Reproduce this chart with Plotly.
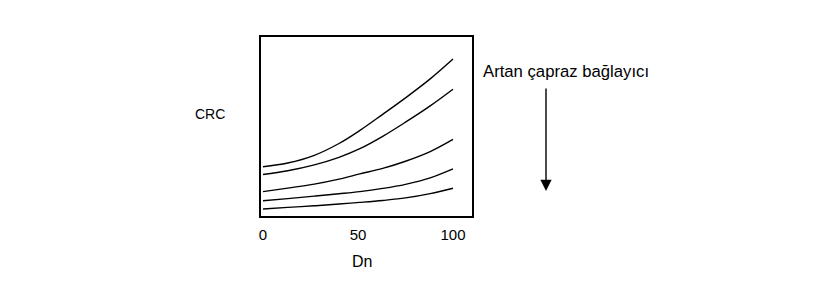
import plotly.graph_objects as go

dn = [0, 13, 27, 40, 51, 63, 75, 88, 100]
crc_1 = [27.5, 29.6, 33.9, 40.5, 47.8, 56.8, 66.0, 76.6, 87.7]
crc_2 = [23.2, 25.3, 28.6, 32.8, 37.6, 44.5, 52.4, 61.5, 70.8]
crc_3 = [13.6, 15.6, 17.8, 20.6, 23.5, 26.6, 30.6, 36.0, 42.8]
crc_4 = [8.5, 9.7, 11.1, 12.4, 13.6, 15.4, 17.7, 21.3, 26.3]
crc_5 = [3.9, 4.8, 5.7, 6.7, 7.6, 8.7, 10.1, 12.5, 15.5]
series = [crc_1, crc_2, crc_3, crc_4, crc_5]
tick_vals = [0, 50, 100]
tick_text = ["0", "50", "100"]

FONT = "Liberation Sans, Arial, sans-serif"

fig = go.Figure()
for s in series:
    fig.add_trace(go.Scatter(x=dn, y=s, mode="lines",
                             line=dict(color="black", width=1.4, shape="spline", smoothing=1.0),
                             showlegend=False, hoverinfo="skip"))

fig.update_layout(
    width=825, height=285,
    margin=dict(l=261, r=353, t=37, b=69),
    paper_bgcolor="white", plot_bgcolor="white",
    xaxis=dict(range=[-1.05, 110], tickvals=tick_vals, ticktext=tick_text,
               showgrid=False, zeroline=False, showline=True, mirror=True,
               linecolor="black", linewidth=1.5,
               ticks="outside", ticklen=4, tickcolor="rgba(0,0,0,0)",
               tickfont=dict(family=FONT, size=15, color="black")),
    yaxis=dict(range=[0, 100], showticklabels=False, showgrid=False, zeroline=False,
               showline=True, mirror=True, linecolor="black", linewidth=1.5, ticks=""),
    annotations=[
        dict(text="CRC", xref="paper", yref="paper", x=-0.2417, y=0.568,
             xanchor="center", yanchor="middle",
             showarrow=False, font=dict(family=FONT, size=14, color="black")),
        dict(text="Dn", xref="paper", yref="paper", x=0.477, y=-0.2514,
             xanchor="center", yanchor="middle",
             showarrow=False, font=dict(family=FONT, size=16, color="black")),
        dict(text="Artan çapraz bağlayıcı", xref="paper", yref="paper", x=1.043, y=0.81,
             xanchor="left", yanchor="middle",
             showarrow=False, font=dict(family=FONT, size=16.7, color="black")),
        dict(text="", xref="paper", yref="paper", x=(546-261)/211, y=(216-191)/179,
             ax=0, ay=-104, showarrow=True, arrowhead=2, arrowsize=1.6, arrowwidth=1.4,
             arrowcolor="black"),
    ],
)

fig.write_html("out.html")
